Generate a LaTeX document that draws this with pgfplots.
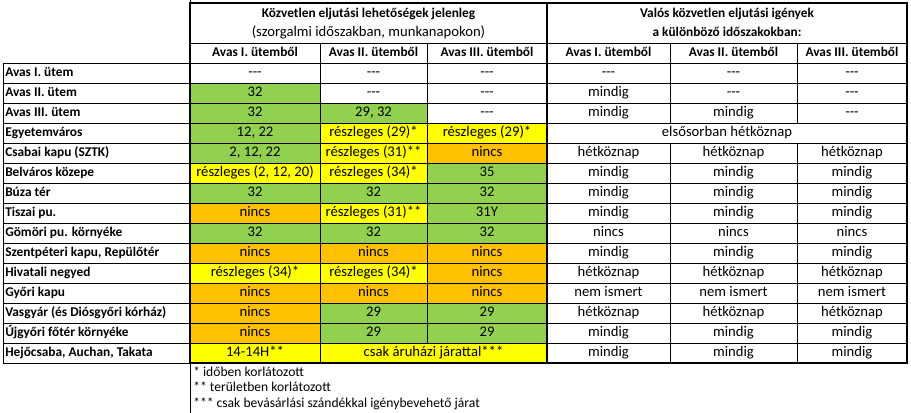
\documentclass[border=0pt]{standalone}
\usepackage{fontspec}
\setmainfont{Carlito}
\usepackage{pgfplots}
\pgfplotsset{compat=1.18}
\definecolor{cG}{HTML}{92D050}
\definecolor{cY}{HTML}{FFFF00}
\definecolor{cO}{HTML}{FFC000}
\newcommand{\cell}[5]{\addplot[fill=#5, draw=none] coordinates {(#1,#3) (#2,#3) (#2,#4) (#1,#4)} --cycle;}
\newcommand{\tx}[3]{\node[inner sep=0pt, anchor=center] at (axis cs:#1,#2) {\strut #3};}
\newcommand{\nm}[2]{\node[inner sep=0pt, anchor=west, font=\bfseries] at (axis cs:5,#1) {\strut #2};}
\newcommand{\dsh}{-{}-{}-}
\begin{document}
\begin{tikzpicture}
\begin{axis}[width=683.25pt, height=309pt, scale only axis,
  xmin=0, xmax=911, ymin=0, ymax=412, y dir=reverse,
  axis lines=none, clip=false, font=\fontsize{11pt}{13pt}\selectfont]
\path (axis cs:0,0) (axis cs:911,412);
% colored cells
\cell{190}{320}{83}{103}{cG}
\cell{190}{320}{103}{123}{cG}
\cell{320}{427}{103}{123}{cG}
\cell{190}{320}{123}{143}{cG}
\cell{320}{427}{123}{143}{cY}
\cell{427}{547}{123}{143}{cY}
\cell{190}{320}{143}{163}{cG}
\cell{320}{427}{143}{163}{cY}
\cell{427}{547}{143}{163}{cO}
\cell{190}{320}{163}{183}{cY}
\cell{320}{427}{163}{183}{cY}
\cell{427}{547}{163}{183}{cG}
\cell{190}{320}{183}{203}{cG}
\cell{320}{427}{183}{203}{cG}
\cell{427}{547}{183}{203}{cG}
\cell{190}{320}{203}{223}{cO}
\cell{320}{427}{203}{223}{cY}
\cell{427}{547}{203}{223}{cG}
\cell{190}{320}{223}{243}{cG}
\cell{320}{427}{223}{243}{cG}
\cell{427}{547}{223}{243}{cG}
\cell{190}{320}{243}{263}{cO}
\cell{320}{427}{243}{263}{cO}
\cell{427}{547}{243}{263}{cO}
\cell{190}{320}{263}{283}{cY}
\cell{320}{427}{263}{283}{cY}
\cell{427}{547}{263}{283}{cO}
\cell{190}{320}{283}{303}{cO}
\cell{320}{427}{283}{303}{cO}
\cell{427}{547}{283}{303}{cO}
\cell{190}{320}{303}{323}{cO}
\cell{320}{427}{303}{323}{cG}
\cell{427}{547}{303}{323}{cG}
\cell{190}{320}{323}{343}{cO}
\cell{320}{427}{323}{343}{cG}
\cell{427}{547}{323}{343}{cG}
\cell{190}{320}{343}{363}{cY}
\cell{320}{547}{343}{363}{cY}
% thin grid lines
\foreach \yy in {63,83,...,363} {
  \edef\tmp{\noexpand\draw[line width=0.75pt] (axis cs:3,\yy) -- (axis cs:907,\yy);}\tmp
}
\draw[line width=0.75pt] (axis cs:190,43) -- (axis cs:907,43);
\draw[line width=0.75pt] (axis cs:3,63) -- (axis cs:3,363);
\draw[line width=0.75pt] (axis cs:320,43) -- (axis cs:320,363);
\draw[line width=0.75pt] (axis cs:427,43) -- (axis cs:427,343);
\draw[line width=0.75pt] (axis cs:670,43) -- (axis cs:670,123);
\draw[line width=0.75pt] (axis cs:670,143) -- (axis cs:670,363);
\draw[line width=0.75pt] (axis cs:797,43) -- (axis cs:797,123);
\draw[line width=0.75pt] (axis cs:797,143) -- (axis cs:797,363);
\draw[line width=0.75pt] (axis cs:190,0) -- (axis cs:190,412);
% thick borders
\draw[line width=1.5pt] (axis cs:190,3) rectangle (axis cs:907,363);
\draw[line width=1.5pt] (axis cs:547,3) -- (axis cs:547,363);
% headers
\node[inner sep=0pt, font=\bfseries] at (axis cs:368.5,14) {\strut Közvetlen eljutási lehetőségek jelenleg};
\node[inner sep=0pt] at (axis cs:368.5,33) {\strut (szorgalmi időszakban, munkanapokon)};
\node[inner sep=0pt, font=\bfseries] at (axis cs:727,14) {\strut Valós közvetlen eljutási igények};
\node[inner sep=0pt, font=\bfseries] at (axis cs:727,33) {\strut a különböző időszakokban:};
\node[inner sep=0pt, font=\bfseries] at (axis cs:255,53) {\strut Avas I. ütemből};
\node[inner sep=0pt, font=\bfseries] at (axis cs:373.5,53) {\strut Avas II. ütemből};
\node[inner sep=0pt, font=\bfseries] at (axis cs:487,53) {\strut Avas III. ütemből};
\node[inner sep=0pt, font=\bfseries] at (axis cs:608.5,53) {\strut Avas I. ütemből};
\node[inner sep=0pt, font=\bfseries] at (axis cs:733.5,53) {\strut Avas II. ütemből};
\node[inner sep=0pt, font=\bfseries] at (axis cs:852,53) {\strut Avas III. ütemből};
% row names
\nm{73}{Avas I. ütem}
\nm{93}{Avas II. ütem}
\nm{113}{Avas III. ütem}
\nm{133}{Egyetemváros}
\nm{153}{Csabai kapu (SZTK)}
\nm{173}{Belváros közepe}
\nm{193}{Búza tér}
\nm{213}{Tiszai pu.}
\nm{233}{Gömöri pu. környéke}
\nm{253}{Szentpéteri kapu, Repülőtér}
\nm{273}{Hivatali negyed}
\nm{293}{Győri kapu}
\nm{313}{Vasgyár (és Diósgyőri kórház)}
\nm{333}{Újgyőri főtér környéke}
\nm{353}{Hejőcsaba, Auchan, Takata}
% row 0
\tx{255}{73}{\dsh}\tx{373.5}{73}{\dsh}\tx{487}{73}{\dsh}\tx{608.5}{73}{\dsh}\tx{733.5}{73}{\dsh}\tx{852}{73}{\dsh}
% row 1
\tx{255}{93}{32}\tx{373.5}{93}{\dsh}\tx{487}{93}{\dsh}\tx{608.5}{93}{mindig}\tx{733.5}{93}{\dsh}\tx{852}{93}{\dsh}
% row 2
\tx{255}{113}{32}\tx{373.5}{113}{29, 32}\tx{487}{113}{\dsh}\tx{608.5}{113}{mindig}\tx{733.5}{113}{mindig}\tx{852}{113}{\dsh}
% row 3
\tx{255}{133}{12, 22}\tx{373.5}{133}{részleges (29)*}\tx{487}{133}{részleges (29)*}\tx{727}{133}{elsősorban hétköznap}
% row 4
\tx{255}{153}{2, 12, 22}\tx{373.5}{153}{részleges (31)**}\tx{487}{153}{nincs}\tx{608.5}{153}{hétköznap}\tx{733.5}{153}{hétköznap}\tx{852}{153}{hétköznap}
% row 5
\tx{255}{173}{részleges (2, 12, 20)}\tx{373.5}{173}{részleges (34)*}\tx{487}{173}{35}\tx{608.5}{173}{mindig}\tx{733.5}{173}{mindig}\tx{852}{173}{mindig}
% row 6
\tx{255}{193}{32}\tx{373.5}{193}{32}\tx{487}{193}{32}\tx{608.5}{193}{mindig}\tx{733.5}{193}{mindig}\tx{852}{193}{mindig}
% row 7
\tx{255}{213}{nincs}\tx{373.5}{213}{részleges (31)**}\tx{487}{213}{31Y}\tx{608.5}{213}{mindig}\tx{733.5}{213}{mindig}\tx{852}{213}{mindig}
% row 8
\tx{255}{233}{32}\tx{373.5}{233}{32}\tx{487}{233}{32}\tx{608.5}{233}{nincs}\tx{733.5}{233}{nincs}\tx{852}{233}{nincs}
% row 9
\tx{255}{253}{nincs}\tx{373.5}{253}{nincs}\tx{487}{253}{nincs}\tx{608.5}{253}{mindig}\tx{733.5}{253}{mindig}\tx{852}{253}{mindig}
% row 10
\tx{255}{273}{részleges (34)*}\tx{373.5}{273}{részleges (34)*}\tx{487}{273}{nincs}\tx{608.5}{273}{hétköznap}\tx{733.5}{273}{hétköznap}\tx{852}{273}{hétköznap}
% row 11
\tx{255}{293}{nincs}\tx{373.5}{293}{nincs}\tx{487}{293}{nincs}\tx{608.5}{293}{nem ismert}\tx{733.5}{293}{nem ismert}\tx{852}{293}{nem ismert}
% row 12
\tx{255}{313}{nincs}\tx{373.5}{313}{29}\tx{487}{313}{29}\tx{608.5}{313}{hétköznap}\tx{733.5}{313}{hétköznap}\tx{852}{313}{hétköznap}
% row 13
\tx{255}{333}{nincs}\tx{373.5}{333}{29}\tx{487}{333}{29}\tx{608.5}{333}{mindig}\tx{733.5}{333}{mindig}\tx{852}{333}{mindig}
% row 14
\tx{255}{353}{14-14H**}\tx{433.5}{353}{csak áruházi járattal***}\tx{608.5}{353}{mindig}\tx{733.5}{353}{mindig}\tx{852}{353}{mindig}
% footnotes
\node[inner sep=0pt, anchor=west, font=\fontsize{10.2pt}{12pt}\selectfont] at (axis cs:193,373) {\strut * időben korlátozott};
\node[inner sep=0pt, anchor=west, font=\fontsize{10.2pt}{12pt}\selectfont] at (axis cs:193,388) {\strut ** területben korlátozott};
\node[inner sep=0pt, anchor=west, font=\fontsize{10.2pt}{12pt}\selectfont] at (axis cs:193,404) {\strut *** csak bevásárlási szándékkal igénybevehető járat};
\end{axis}
\end{tikzpicture}
\end{document}
